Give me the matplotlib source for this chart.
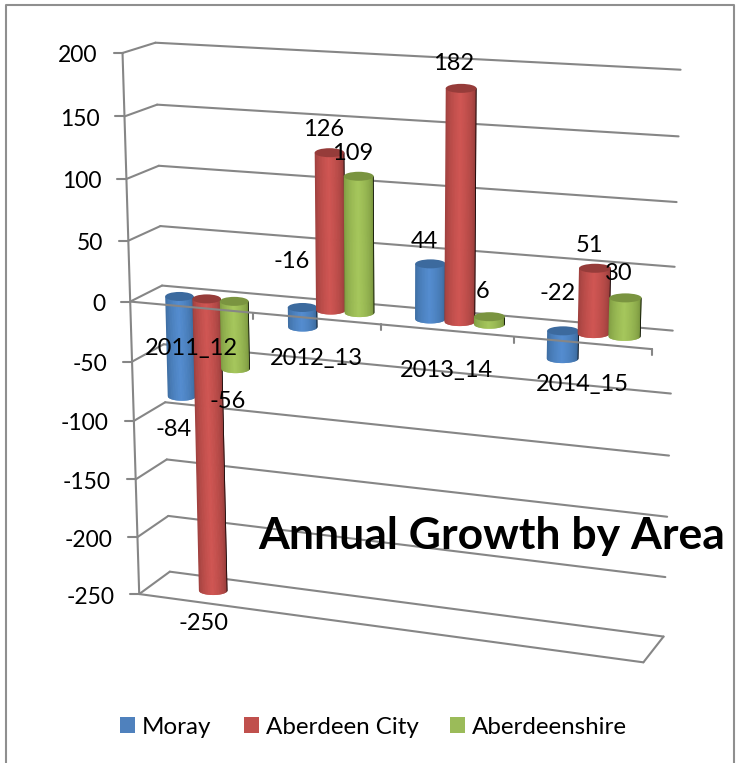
import numpy as np
from matplotlib import pyplot as plt
from matplotlib.colors import to_rgb
from matplotlib.patches import Ellipse, Rectangle, Polygon

plt.rcParams['font.family'] = ['Lato', 'DejaVu Sans']

# data
categories = ['2011_12', '2012_13', '2013_14', '2014_15']
moray = [-84, -16, 44, -22]
aberdeen_city = [-250, 126, 182, 51]
aberdeenshire = [-56, 109, 6, 30]
value_ticks = [200, 150, 100, 50, 0, -50, -100, -150, -200, -250]
series_names = ['Moray', 'Aberdeen City', 'Aberdeenshire']

# (body edge, body centre, cap) colours
colors = [('#35608f', '#548dd0', '#3c6a9e'),
          ('#8a3735', '#d05653', '#963c3a'),
          ('#6f8a38', '#a6c75c', '#7a9440')]

# perspective of the 3d box: u=category position, v=value, w=0 front 1 back
box_points = [
    (0, 200, 1, 155, 42), (0, 150, 1, 157, 105), (0, 100, 1, 159, 166), (0, 50, 1, 161, 226),
    (0, 0, 1, 162, 286), (0, -100, 1, 165, 402), (0, -150, 1, 167, 459), (0, -200, 1, 168, 516),
    (0, -250, 1, 169, 572),
    (4, 200, 1, 681, 70), (4, 150, 1, 678, 137), (4, 100, 1, 677, 202), (4, 50, 1, 675, 267),
    (4, 0, 1, 673, 331), (4, -150, 1, 667, 516), (4, -200, 1, 666, 577), (4, -250, 1, 663, 636),
    (0, 200, 0, 122, 53), (0, 150, 0, 125, 116), (0, 100, 0, 127, 178), (0, 50, 0, 128, 241),
    (0, 0, 0, 130, 302), (0, -50, 0, 133, 362), (0, -100, 0, 134, 422), (0, -150, 0, 136, 479),
    (0, -200, 0, 138, 537), (0, -250, 0, 139, 594),
    (1, 0, 0, 253, 313), (2, 0, 0, 380, 324), (3, 0, 0, 513, 336), (4, 0, 0, 652, 349),
    (4, -250, 0, 644, 663),
]

# fit the projection to the points above
A = []
for u, v, w, px, py in box_points:
    p = [u, v / 100, w, 1]
    A.append(p + [0, 0, 0, 0] + [-px * c for c in p])
    A.append([0, 0, 0, 0] + p + [-py * c for c in p])
P = np.linalg.svd(np.array(A, dtype=float))[2][-1].reshape(3, 4)


def proj(u, v, w):
    h = P @ np.array([u, v / 100, w, 1.0])
    return h[0] / h[2], h[1] / h[2]


fig = plt.figure(figsize=(7.42, 7.63), dpi=100)
ax = fig.add_axes([0, 0, 1, 1])
ax.set_xlim(0, 742)
ax.set_ylim(763, 0)
ax.axis('off')

# chart area border, bottom edge is cut off
ax.plot([6, 6, 734, 734], [763, 5, 5, 763], color='#8f8f8f', lw=1.5, zorder=1)

grid = '#868686'


def seg(a, b, z=2, lw=1.5):
    ax.plot([a[0], b[0]], [a[1], b[1]], color=grid, lw=lw, zorder=z, solid_capstyle='round')


# walls and gridlines
for val in value_ticks:
    seg(proj(0, val, 1), proj(4, val, 1))
    seg(proj(0, val, 0), proj(0, val, 1))
    x, y = proj(0, val, 0)
    seg((x - 9, y), (x, y))
    ax.text(x - 25, y + 3, str(val), ha='right', va='center', fontsize=16.5, color='black', zorder=20)
seg(proj(0, 200, 0), proj(0, -250, 0))
seg(proj(0, -250, 0), proj(4, -250, 0))
seg(proj(4, -250, 0), proj(4, -250, 1))


def cylinder(u, val, w, cols, z):
    x0, y0 = proj(u, 0, w)
    x1, y1 = proj(u, val, w)
    r = proj(u + 0.117, 0, w)[0] - x0
    ry = 4.5
    top_x, top_y = (x0, y0) if val < 0 else (x1, y1)
    bot_x, bot_y = (x1, y1) if val < 0 else (x0, y0)
    edge = np.array(to_rgb(cols[0]))
    mid = np.array(to_rgb(cols[1]))
    ts = np.linspace(-1, 1, 41)
    # strips overlap the next one so no seams show
    for a, b in zip(ts[:-1], np.r_[ts[2:], 1.0]):
        t = a + 0.025
        c = edge + (mid - edge) * (1 - abs(t + 0.05)) ** 0.45
        tt = np.linspace(a, b, 5)
        low = [(bot_x + r * q, bot_y + ry * np.sqrt(1 - q * q)) for q in tt]
        up = [(top_x + r * q, top_y) for q in tt[::-1]]
        ax.add_patch(Polygon(low + up, closed=True, facecolor=c, edgecolor='none', zorder=z))
    ax.add_patch(Ellipse((top_x, top_y), 2 * r, 2 * ry, facecolor=cols[2], edgecolor='none', zorder=z))


# bars
all_series = [moray, aberdeen_city, aberdeenshire]
z = 3
for i in range(len(categories)):
    for s in range(3):
        cylinder(i + 0.5 + (s - 1) * 0.225, all_series[s][i], 0.5, colors[s], z)
        z += 1

# front line of zero plane goes over the bars
seg(proj(0, 0, 0), proj(4, 0, 0), z=15)
for i in range(1, 5):
    x, y = proj(i, 0, 0)
    seg((x, y), (x, y + 6), z=15)

# category labels
cat_pos = [(191, 348), (316, 359), (446, 371), (582, 384)]
for name, (x, y) in zip(categories, cat_pos):
    ax.text(x, y, name, ha='center', va='center', fontsize=17, color='black', zorder=20)

# data labels, moved by hand in the original
moray_pos = [(174, 430), (292, 262), (424, 242), (558, 293)]
city_pos = [(204, 624), (324, 129), (454, 64), (589, 245)]
shire_pos = [(228, 402), (353, 153), (483, 292), (619, 274)]
for vals, pos in zip(all_series, [moray_pos, city_pos, shire_pos]):
    for val, (x, y) in zip(vals, pos):
        ax.text(x, y, str(val), ha='center', va='center', fontsize=17, color='black', zorder=21)

ax.text(492, 536, 'Annual Growth by Area', ha='center', va='center', fontsize=32, fontweight='bold', color='black', zorder=22)

# legend
leg_x = [120, 244, 450]
leg_colors = ['#4f81bd', '#c0504d', '#9bbb59']
for x, name, col in zip(leg_x, series_names, leg_colors):
    ax.add_patch(Rectangle((x, 717), 15, 16, facecolor=col, edgecolor='none', zorder=5))
    ax.text(x + 22, 727, name, ha='left', va='center', fontsize=17.4, color='black', zorder=5)

fig.savefig('out.png', dpi=100)
